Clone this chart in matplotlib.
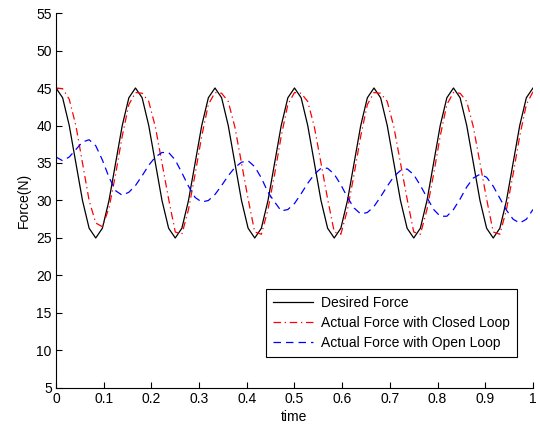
import numpy as np
import matplotlib.pyplot as plt

plt.rcParams["font.family"] = ["Liberation Sans", "DejaVu Sans"]

# time samples, 72 steps over one second
time = np.arange(73) / 72.0

desired_force = [
    45, 43.7, 40, 35, 30, 26.3, 25, 26.3, 30, 35, 40, 43.7,
    45, 43.7, 40, 35, 30, 26.3, 25, 26.3, 30, 35, 40, 43.7,
    45, 43.7, 40, 35, 30, 26.3, 25, 26.3, 30, 35, 40, 43.7,
    45, 43.7, 40, 35, 30, 26.3, 25, 26.3, 30, 35, 40, 43.7,
    45, 43.7, 40, 35, 30, 26.3, 25, 26.3, 30, 35, 40, 43.7,
    45, 43.7, 40, 35, 30, 26.3, 25, 26.3, 30, 35, 40, 43.7,
    45,
]

closed_loop = [
    45, 44.9, 43.5, 40.0, 35.0, 30.0, 27.0, 26.5, 29.0, 33.5, 38.6, 42.8,
    44.4, 44.3, 43.2, 39.8, 35.0, 30.2, 25.8, 25.5, 28.8, 33.5, 38.6, 42.8,
    44.4, 44.3, 43.2, 39.8, 35.0, 30.2, 25.8, 25.5, 28.8, 33.5, 38.6, 42.8,
    44.4, 44.3, 43.2, 39.8, 35.0, 30.2, 25.8, 25.5, 28.8, 33.5, 38.6, 42.8,
    44.4, 44.3, 43.2, 39.8, 35.0, 30.2, 25.8, 25.5, 28.8, 33.5, 38.6, 42.8,
    44.4, 44.3, 43.2, 39.8, 35.0, 30.2, 25.8, 25.5, 28.8, 33.5, 38.6, 42.8,
    44.5,
]

open_loop = [
    35.8, 35.3, 35.8, 36.8, 37.8, 38.1, 37.3, 35.4, 33.1, 31.3, 30.7, 31.1,
    32.0, 33.3, 34.7, 35.8, 36.4, 36.4, 35.4, 33.7, 31.9, 30.4, 29.8, 30.0,
    30.8, 32.0, 33.3, 34.4, 35.1, 35.3, 34.5, 33.0, 31.1, 29.8, 28.6, 28.8,
    29.6, 30.9, 32.3, 33.5, 34.3, 34.3, 33.5, 32.1, 30.4, 29.0, 28.2, 28.4,
    29.2, 30.5, 31.9, 33.2, 34.0, 34.2, 33.45, 32.0, 30.4, 28.8, 27.9, 27.9,
    28.8, 30.2, 31.8, 33.0, 33.5, 33.1, 31.9, 30.3, 28.7, 27.5, 27.0, 27.5,
    28.8,
]

fig = plt.figure(figsize=(5.4, 4.28), dpi=100)
ax = fig.add_axes([0.1037, 0.0935, 0.8833, 0.8761])

ax.plot(time, desired_force, color="black", lw=0.9, label="Desired Force")
ax.plot(time, closed_loop, color="red", lw=0.9, ls=(0, (6, 3, 1, 3)),
        label="Actual Force with Closed Loop")
ax.plot(time, open_loop, color="blue", lw=0.9, ls=(0, (6, 4)),
        label="Actual Force with Open Loop")

ax.set_xlim(0, 1)
ax.set_ylim(5, 55)
ax.set_xticks(np.arange(0, 1.01, 0.1))
ax.set_xticklabels(["0", "0.1", "0.2", "0.3", "0.4", "0.5", "0.6", "0.7", "0.8", "0.9", "1"])
ax.set_yticks(np.arange(5, 56, 5))
ax.tick_params(direction="in", length=4, width=0.8, labelsize=10, pad=3)
for side in ["top", "right"]:
    ax.spines[side].set_visible(False)
for side in ["left", "bottom"]:
    ax.spines[side].set_linewidth(0.8)

ax.set_xlabel("time", fontsize=10, labelpad=3)
ax.set_ylabel("Force(N)", fontsize=10, labelpad=4)

leg = ax.legend(loc="lower right", bbox_to_anchor=(0.9665, 0.0827), borderaxespad=0,
                fontsize=10, frameon=True, fancybox=False, framealpha=1,
                handlelength=2.9, handletextpad=0.6, labelspacing=0.45,
                borderpad=0.5)
leg.get_frame().set_edgecolor("black")
leg.get_frame().set_linewidth(0.8)

fig.savefig("out.png", dpi=100)
